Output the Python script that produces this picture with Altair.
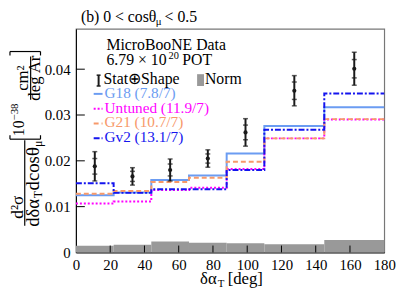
import altair as alt
import pandas as pd

FONT = "Liberation Serif"

# ---------------- data ----------------
bin_lo = [0, 22, 44, 66, 88, 110, 145]
bin_hi = [22, 44, 66, 88, 110, 145, 180]
bin_center = [11, 33, 55, 77, 99, 127.5, 162.5]
data_xsec = [0.0188, 0.0166, 0.0180, 0.0205, 0.0262, 0.0353, 0.0401]
data_err_total = [0.0032, 0.0019, 0.0024, 0.0019, 0.0030, 0.0033, 0.0036]
data_err_stat = [0.0017, 0.0011, 0.0013, 0.0010, 0.0016, 0.0019, 0.0020]
norm_unc = [0.00144, 0.0017, 0.0024, 0.0021, 0.0020, 0.0018, 0.0027]

g18 = [0.0125, 0.0131, 0.0158, 0.0168, 0.0216, 0.0276, 0.0317]
untuned = [0.0107, 0.0111, 0.0136, 0.0141, 0.0182, 0.0249, 0.0290]
g21 = [0.0128, 0.0134, 0.0154, 0.0163, 0.0198, 0.0249, 0.0291]
gv2 = [0.0151, 0.0130, 0.0138, 0.0138, 0.0180, 0.0268, 0.0347]

x_ticks = [0, 20, 40, 60, 80, 100, 120, 140, 160, 180]
y_ticks = [0, 0.01, 0.02, 0.03, 0.04]

models = [
    ("G18 (7.8/7)", g18, "#6b9cf2", []),
    ("Untuned (11.9/7)", untuned, "#ff00ff", [2, 2]),
    ("G21 (10.7/7)", g21, "#f7996a", [5, 3]),
    ("Gv2 (13.1/7)", gv2, "#1414ee", [6, 2, 2, 2]),
]

W, H = 313, 227
xs = alt.Scale(domain=[0, 180], nice=False)
ys = alt.Scale(domain=[0, 0.0488], nice=False)
xaxis = alt.Axis(values=x_ticks, title=None, ticks=False, tickSize=0, grid=False,
                 labelFont=FONT, labelFontSize=15, labelColor="black",
                 labelPadding=5, labelFlush=False, domainColor="black")
yaxis = alt.Axis(values=y_ticks, title=None, ticks=False, tickSize=0, grid=False,
                 labelFont=FONT, labelFontSize=15, labelColor="black",
                 labelPadding=6, labelFlush=False, domainColor="black",
                 labelExpr="datum.value == 0 ? '0' : format(datum.value, '.2f')")

dummy = pd.DataFrame({"d": [0]})

def txt(s, x, y, size, color="black", align="left", angle=0, baseline="alphabetic"):
    return alt.Chart(dummy).mark_text(
        text=s, align=align, baseline=baseline, fontSize=size, font=FONT,
        color=color, angle=angle
    ).encode(x=alt.value(x), y=alt.value(y))

def rule(x1, y1, x2, y2, color="black", width=1.0, dash=None):
    kw = dict(color=color, strokeWidth=width)
    if dash:
        kw["strokeDash"] = dash
    return alt.Chart(dummy).mark_rule(**kw).encode(
        x=alt.value(x1), y=alt.value(y1), x2=alt.value(x2), y2=alt.value(y2))

layers = []

# Norm band
band_df = pd.DataFrame({"lo": bin_lo, "hi": bin_hi, "norm": norm_unc,
                        "base": [0.0] * len(bin_lo)})
layers.append(alt.Chart(band_df).mark_rect(color="#999999").encode(
    x=alt.X("lo:Q", scale=xs, axis=xaxis), x2="hi:Q",
    y=alt.Y("norm:Q", scale=ys, axis=yaxis), y2="base:Q"))

# Model step histograms
for name, vals, col, dash in models:
    sdf = pd.DataFrame({"x": bin_lo + [bin_hi[-1]], "y": vals + [vals[-1]]})
    kw = dict(color=col, strokeWidth=2, interpolate="step-after")
    if dash:
        kw["strokeDash"] = dash
    layers.append(alt.Chart(sdf).mark_line(**kw).encode(
        x=alt.X("x:Q", scale=xs, axis=xaxis),
        y=alt.Y("y:Q", scale=ys, axis=yaxis)))

# Data points with error bars
ddf = pd.DataFrame({"x": bin_center, "y": data_xsec,
                    "lo": [v - e for v, e in zip(data_xsec, data_err_total)],
                    "hi": [v + e for v, e in zip(data_xsec, data_err_total)],
                    "slo": [v - e for v, e in zip(data_xsec, data_err_stat)],
                    "shi": [v + e for v, e in zip(data_xsec, data_err_stat)]})
layers.append(alt.Chart(ddf).mark_rule(color="#1a1a1a", strokeWidth=2).encode(
    x=alt.X("x:Q", scale=xs, axis=xaxis), y=alt.Y("lo:Q", scale=ys, axis=yaxis), y2="hi:Q"))
for f in ["lo", "hi", "slo", "shi"]:
    layers.append(alt.Chart(ddf).mark_tick(orient="horizontal", color="#1a1a1a",
                                          size=5, thickness=1.5).encode(
        x=alt.X("x:Q", scale=xs, axis=xaxis), y=alt.Y(f + ":Q", scale=ys, axis=yaxis)))
layers.append(alt.Chart(ddf).mark_circle(color="#1a1a1a", size=18, opacity=1).encode(
    x=alt.X("x:Q", scale=xs, axis=xaxis), y=alt.Y("y:Q", scale=ys, axis=yaxis)))

# Inner ticks (ROOT style)
xt_df = pd.DataFrame({"t": x_ticks[1:-1]})
layers.append(alt.Chart(xt_df).mark_rule(color="black", strokeWidth=1).encode(
    x=alt.X("t:Q", scale=xs, axis=xaxis), y=alt.value(H), y2=alt.value(H - 7)))
yt_df = pd.DataFrame({"t": y_ticks[1:]})
layers.append(alt.Chart(yt_df).mark_rule(color="black", strokeWidth=1).encode(
    y=alt.Y("t:Q", scale=ys, axis=yaxis), x=alt.value(0), x2=alt.value(9)))

# Title
layers.append(txt("(b) 0 < cosθ", 5, -7, 16))
layers.append(txt("μ", 81, -4, 11))
layers.append(txt("< 0.5", 90, -7, 16))

# x title
layers.append(txt("δα", 126, 259, 17))
layers.append(txt("T", 144, 262, 11))
layers.append(txt("[deg]", 154, 259, 17))

# y title : fraction
layers.append(txt("d²σ", -54, 181, 17.5, align="center", angle=270))
layers.append(rule(-52, 113, -52, 200, width=1.2))
layers.append(txt("dδα", -38, 201, 19, angle=270))
layers.append(txt("T", -34, 172, 12, angle=270))
layers.append(txt("dcosθ", -38, 164, 19, angle=270))
layers.append(txt("μ", -34, 120, 12, angle=270))
# y title : units bracket
layers.append(rule(-67, 112, -36, 112, width=1.2))
layers.append(rule(-67, 112, -67, 108, width=1.2))
layers.append(rule(-36, 112, -36, 108, width=1.2))
layers.append(rule(-67, 23, -36, 23, width=1.2))
layers.append(rule(-67, 23, -67, 27, width=1.2))
layers.append(rule(-36, 23, -36, 27, width=1.2))
layers.append(txt("10", -53, 109, 16, angle=270))
layers.append(txt("−38", -59, 93, 11, angle=270))
layers.append(txt("cm²", -49, 50, 17, align="center", angle=270))
layers.append(rule(-46, 28, -46, 72, width=1.2))
layers.append(txt("deg Ar", -37, 50, 17, align="center", angle=270))

# Legend
layers.append(txt("MicroBooNE Data", 31, 21, 16))
layers.append(txt("6.79 × 10", 31, 37, 16))
layers.append(txt("20", 94, 31, 10.5))
layers.append(txt("POT", 108, 37, 16))
layers.append(rule(23, 47, 23, 58, color="#1a1a1a", width=2))
layers.append(rule(21, 47, 25, 47, color="#1a1a1a", width=1.5))
layers.append(rule(21, 58, 25, 58, color="#1a1a1a", width=1.5))
layers.append(txt("Stat⊕Shape", 28, 56, 16))
layers.append(alt.Chart(dummy).mark_rect(color="#999999").encode(
    x=alt.value(123), x2=alt.value(130), y=alt.value(46), y2=alt.value(58)))
layers.append(txt("Norm", 131, 56, 16))
leg_y = [70, 85, 100, 115]
for (name, vals, col, dash), yb in zip(models, leg_y):
    layers.append(rule(18, yb - 4, 27, yb - 4, color=col, width=2, dash=dash if dash else None))
    layers.append(txt(name, 29, yb, 15.5, color=col))

chart = alt.layer(*layers).properties(
    width=W, height=H,
    padding={"left": 69, "top": 19, "right": 15, "bottom": 40},
    autosize=alt.AutoSizeParams(type="none"),
    background="white",
).configure_view(stroke="#777777", strokeWidth=1.2)

chart.save("out.html", embed_options={"renderer": "svg", "actions": False})
